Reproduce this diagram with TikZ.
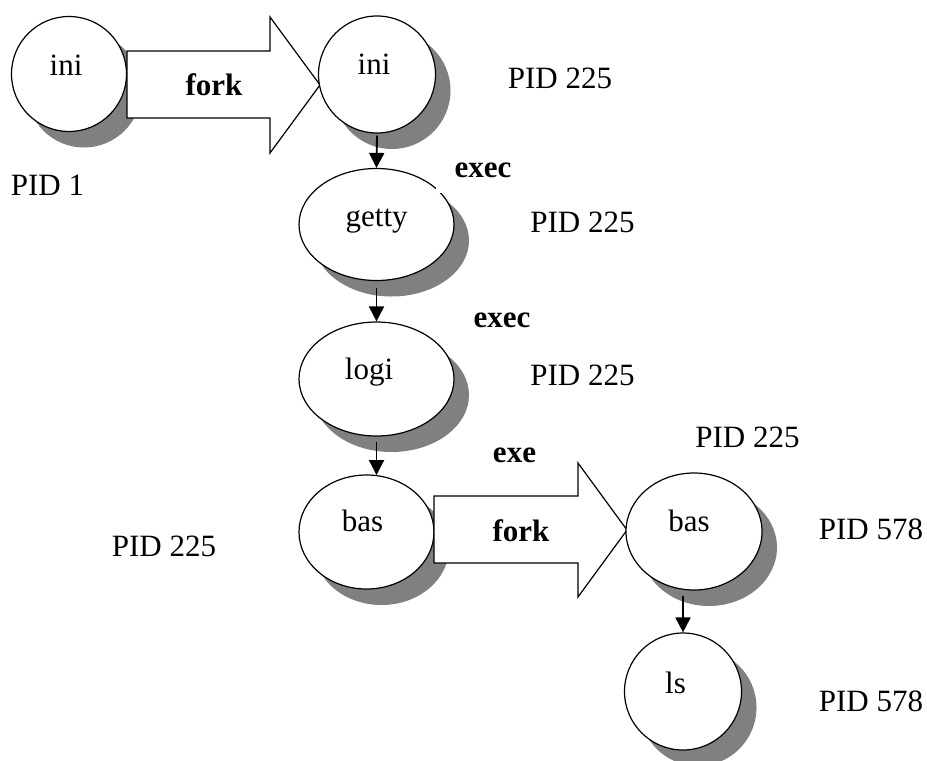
\documentclass[tikz,border=0pt]{standalone}
\usepackage{fontspec}
\setmainfont{Liberation Serif}
\usetikzlibrary{arrows.meta,shadows,shapes.geometric}
\definecolor{shadowgray}{HTML}{808080}
\begin{document}
\begin{tikzpicture}[x=0.75pt,y=-0.75pt,
  proc/.style={ellipse, draw, line width=0.9pt, fill=white, inner sep=0pt,
    drop shadow={shadow xshift=11.25pt, shadow yshift=-12pt, fill=shadowgray, opacity=1}},
  conn/.style={line width=1.4pt, -{Triangle[length=11.25pt,width=11.25pt]}},
  txt/.style={anchor=base, inner sep=0pt, font=\fontsize{23.25pt}{28pt}\selectfont},
  btxt/.style={txt, font=\fontsize{23.25pt}{28pt}\selectfont\bfseries},
  fat/.style={draw, line width=0.9pt, fill=white, line join=miter}]
\useasboundingbox (0,0) rectangle (927,760);

% first process and the fork into the second one
\node[proc, minimum width=115*0.75pt, minimum height=115*0.75pt] (ini1) at (69,74) {};
\draw[fat] (127,51) -- (270,51) -- (270,17) -- (320,85) -- (270,153) -- (270,118) -- (127,118) -- cycle;
\node[proc, minimum width=117*0.75pt, minimum height=117*0.75pt] (ini2) at (377,74.5) {};

% exec chain
\node[proc, minimum width=155*0.75pt, minimum height=112*0.75pt] (getty) at (376.5,224.5) {};
\node[proc, minimum width=155*0.75pt, minimum height=114*0.75pt] (logi) at (376.5,379) {};
\node[proc, minimum width=135*0.75pt, minimum height=114*0.75pt] (bas1) at (366.5,532) {};
\draw[fat] (434,496) -- (578,496) -- (578,463) -- (627,530) -- (578,597) -- (578,563) -- (434,563) -- cycle;
\node[proc, minimum width=136*0.75pt, minimum height=117*0.75pt] (bas2) at (694,531.5) {};
\node[proc, minimum width=117*0.75pt, minimum height=117*0.75pt] (ls) at (683,691.5) {};

% connectors
\draw[conn] ([yshift=-1.5pt]ini2.south) -- (getty.north);
\draw[conn] ([yshift=-5pt]getty.south) -- (logi.north);
\draw[conn] ([yshift=-4pt]logi.south) -- ([yshift=-0.5pt]logi.south |- bas1.north);
\draw[conn] ([yshift=-4pt]ls.north |- bas2.south) -- (ls.north);

% process names
\node[txt] (tini1) at (66,75) {ini};
\node[txt] (tini2) at (374,74) {ini};
\node[txt] (tgetty) at (376.7,226) {getty};
\node[txt] (tlogi) at (369,379.3) {logi};
\node[txt] (tbas1) at (362.5,531.7) {bas};
\node[txt] (tbas2) at (689,531.7) {bas};
\node[txt] (tls) at (675.5,693.3) {ls};

% operations
\node[btxt] (fork1) at (214,95.7) {fork};
\node[btxt] (fork2) at (521,541) {fork};
\node[btxt, fill=white, inner xsep=14.25pt, inner ysep=12pt] (exec1) at (483,177) {exec};
\node[btxt] (exec2) at (502,327.5) {exec};
\node[btxt] (exe) at (514.5,462.7) {exe};

% process ids
\node[txt] (pid1) at (47.5,195) {PID 1};
\node[txt] (pid2) at (560,88) {PID 225};
\node[txt] (pid3) at (582.5,232.5) {PID 225};
\node[txt] (pid4) at (582.5,385) {PID 225};
\node[txt] (pid5) at (164,556) {PID 225};
\node[txt] (pid6) at (747.5,447.3) {PID 225};
\node[txt] (pid7) at (871,539.3) {PID 578};
\node[txt] (pid8) at (871,711.7) {PID 578};
\end{tikzpicture}
\end{document}
